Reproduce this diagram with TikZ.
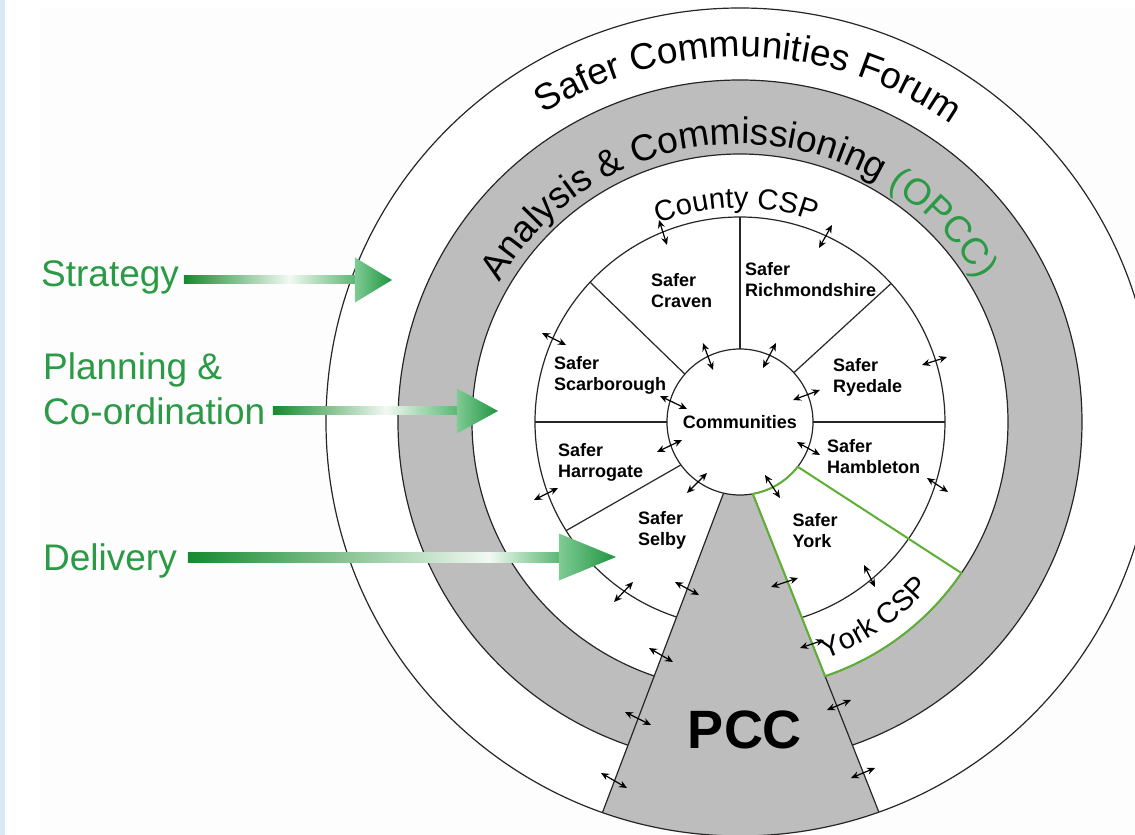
\documentclass[tikz,border=0pt]{standalone}
\usepackage{fontspec}
\setmainfont{Liberation Sans}
\usetikzlibrary{decorations.text,arrows.meta}
\definecolor{tgreen}{HTML}{2A9A45}
\definecolor{ygreen}{HTML}{5DAF35}
\definecolor{bandgray}{HTML}{BDBDBD}
\definecolor{gdark}{HTML}{168A2E}
\definecolor{gwhite}{HTML}{F2F9F3}
\definecolor{gend}{HTML}{5AB673}
\definecolor{hlight}{HTML}{7FCB95}
\definecolor{hdark}{HTML}{1E953F}
\definecolor{stripblue}{HTML}{D6E9F4}
\definecolor{offwhite}{HTML}{FDFDFD}
\pgfdeclarehorizontalshading{shaftA}{100bp}{color(0bp)=(gdark); color(25bp)=(gdark); color(55.5bp)=(gwhite); color(75bp)=(gend); color(100bp)=(gend)}
\pgfdeclarehorizontalshading{shaftB}{100bp}{color(0bp)=(gdark); color(25bp)=(gdark); color(65.5bp)=(gwhite); color(75bp)=(gend); color(100bp)=(gend)}
\begin{document}
\begin{tikzpicture}[x=1pt,y=1pt,
  ln/.style={draw=black!85, line width=1.2pt},
  dbl/.style={{Stealth[length=8pt,width=7pt]}-{Stealth[length=8pt,width=7pt]}, line width=1.2pt},
  sector/.style={font=\bfseries\fontsize{18}{21}\selectfont, align=left, inner sep=0pt, anchor=west},
  glabel/.style={text=tgreen, font=\fontsize{37}{45}\selectfont, inner sep=0pt, align=left},
  york/.style={draw=ygreen, line width=2pt, line join=round}]
\useasboundingbox (-740,-413) rectangle (395,422);
\clip (-740,-413) rectangle (395,422);
% background
\fill[white] (-740,-413) rectangle (395,422);
\fill[offwhite] (-700,-413) rectangle (395,414);
\fill[stripblue] (-740,-413) rectangle (-735,422);
% rings
\fill[white] (0,0) circle (414);
\fill[bandgray, even odd rule] (0,0) circle (342) (0,0) circle (268);
\draw[ln] (0,0) circle (342);
\draw[ln] (0,0) circle (268);
\draw[ln] (0,0) circle (205);
% PCC wedge
\fill[bandgray] (-103:73) -- (250.6:414) arc[start angle=250.6, end angle=289.6, radius=414] -- (-79.9:73) -- cycle;
\draw[ln] (-103:73) -- (250.6:414);
\draw[ln] (-79.9:73) -- (289.6:414);
\draw[ln] (0,0) circle (414);
% sector lines
\draw[ln] (90:73) -- (90:205);
\draw[ln] (42.5:73) -- (42.5:205);
\draw[ln] (139:73) -- (137:205);
\draw[ln] (0:73) -- (0:205);
\draw[ln] (180:73) -- (180:205);
\draw[ln] (216:73) -- (212:205);
% communities
\node[circle, ln, fill=white, minimum size=146pt, inner sep=0pt, font=\bfseries\fontsize{18}{21}\selectfont] (comm) at (0,0) {Communities};
% York CSP outline
\draw[york] (-37.8:73) -- (-34.3:268) arc[start angle=-34.3, end angle=-71.5, radius=268] -- (-79.9:73) arc[start angle=-79.9, end angle=-37.8, radius=73] -- cycle;
% arc texts
\path[decorate, decoration={text along path, text align=center, text={|\fontsize{37}{40}\selectfont|Safer Communities Forum}}] (178.6:365) arc[start angle=178.6, end angle=-1.4, radius=365];
\path[decorate, decoration={text along path, text align=center, text={|\fontsize{37}{40}\selectfont|Analysis {\&} Commissioning |\fontsize{37}{40}\selectfont\color{tgreen}|(OPCC)}}] (180.3:278) arc[start angle=180.3, end angle=0.3, radius=278];
\path[decorate, decoration={text along path, text align=center, text={|\fontsize{29}{32}\selectfont|County CSP}}] (181:214) arc[start angle=181, end angle=1, radius=214];
\path[decorate, decoration={text along path, text align=center, text={|\fontsize{29}{31}\selectfont|York CSP}}] (-145.6:252) arc[start angle=-145.6, end angle=34.4, radius=252];
% sector labels
\node[sector] (craven) at (-89,131.5) {Safer\\Craven};
\node[sector] (richmond) at (5,142.5) {Safer\\Richmondshire};
\node[sector] (scar) at (-186,46.5) {Safer\\Scarborough};
\node[sector] (ryedale) at (93,45) {Safer\\Ryedale};
\node[sector] (harro) at (-182,-40) {Safer\\Harrogate};
\node[sector] (hamble) at (87,-34.5) {Safer\\Hambleton};
\node[sector] (selby) at (-102,-108.5) {Safer\\Selby};
\node[sector] (york) at (52.5,-108.5) {Safer\\York};
\node[font=\bfseries\fontsize{54}{60}\selectfont, inner sep=0pt] (pcc) at (5,-308) {PCC};
% small double arrows
\foreach \a/\b/\c/\d in {-81/202/-73/177, 92/197/79/174, -198/89/-174/77, 207/65/182/57,
  -206/-78/-182/-66, 187/-56/208/-70, -37/79/-27/52, 36/79/23/54, -80/26/-53/13, 80/32/53/22,
  -83/-30/-58/-18, 57/-20/80/-33, -53/-71/-33/-51, 25/-53/40/-76, -126/-180/-107/-160,
  -65/-160/-41/-173, 31/-165/58/-156, 124/-143/135/-165, 60/-226/84/-218, -91/-226/-67/-240,
  -115/-290/-89/-303, 87/-288/111/-278, -139/-351/-113/-366, 111/-356/135/-346}
  \draw[dbl] (\a,\b) -- (\c,\d);
% green labels
\node[glabel, anchor=base west] (strategy) at (-699,135) {Strategy};
\node[glabel, anchor=north west] (planning) at (-697,70) {Planning \&\\Co-ordination};
\node[glabel, anchor=base west] (delivery) at (-697,-148) {Delivery};
% green arrows
\shade[shading=shaftA] (-556,138) rectangle (-384,146);
\shade[left color=hlight, right color=hdark] (-385,164.5) -- (-348,142) -- (-385,119.5) -- cycle;
\shade[shading=shaftA] (-467,7) rectangle (-282,15);
\shade[left color=hlight, right color=hdark] (-283,33.5) -- (-242,11) -- (-283,-11.5) -- cycle;
\shade[shading=shaftB] (-552,-140) rectangle (-180,-130);
\shade[left color=hlight, right color=hdark] (-181,-111.5) -- (-124,-135) -- (-181,-158.5) -- cycle;
\end{tikzpicture}
\end{document}
